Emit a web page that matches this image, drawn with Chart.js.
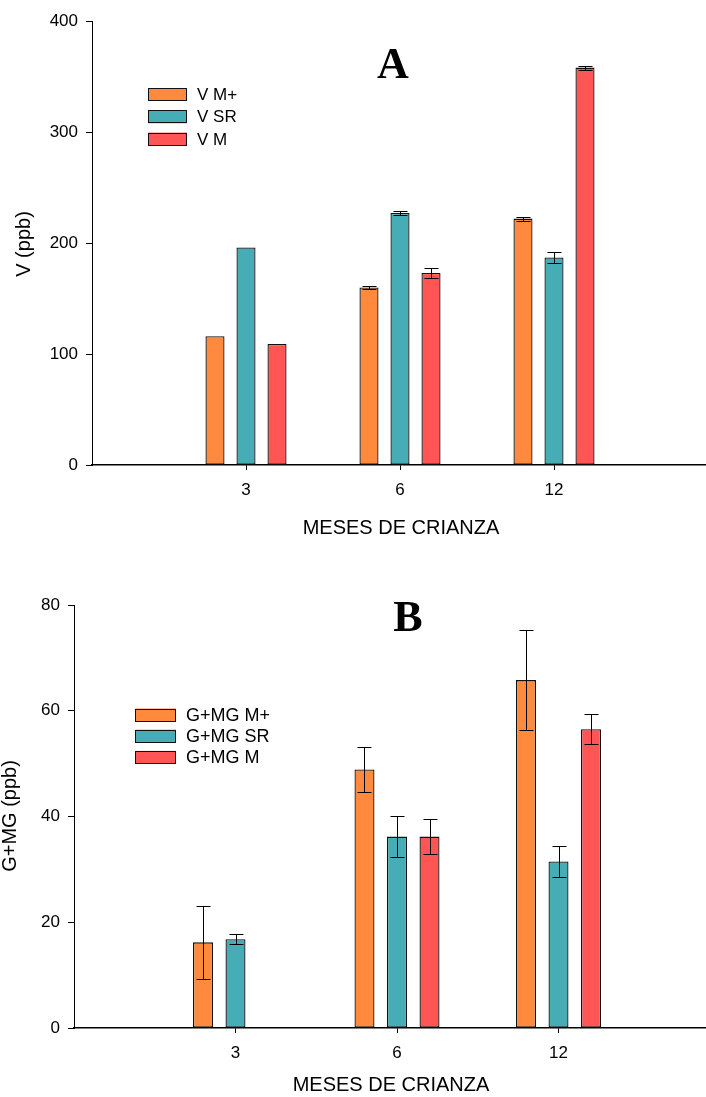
<!DOCTYPE html>
<html><head><meta charset="utf-8">
<script src="https://cdn.jsdelivr.net/npm/chart.js@4"></script>
<style>
html,body{margin:0;padding:0;background:#fff;overflow:hidden;width:706px;height:1097px;position:relative}
canvas{position:absolute;left:0}
</style></head><body>
<canvas id="chartA" width="718" height="550" style="top:0px"></canvas>
<canvas id="chartB" width="730" height="547" style="top:550px"></canvas>
<script>
// ---------- data ----------
const categories = ['3', '6', '12'];

const vLabels = ['V M+', 'V SR', 'V M'];
const vMplus    = [116, 160, 222];
const vMplusErr = [0, 1, 1.8];
const vSR       = [196, 227, 187];
const vSRErr    = [0, 2, 4.8];
const vM        = [109, 173, 358];
const vMErr     = [0, 4.3, 1.8];
const vTicks    = [0, 100, 200, 300, 400];

const gLabels = ['G+MG M+', 'G+MG SR', 'G+MG M'];
const gMplus    = [16.2, 48.9, 65.8];
const gMplusErr = [6.9, 4.2, 9.5];
const gSR       = [16.8, 36.2, 31.5];
const gSRErr    = [0.95, 3.9, 3.0];
const gM        = [null, 36.2, 56.5];
const gMErr     = [0, 3.25, 2.85];
const gTicks    = [0, 20, 40, 60, 80];

// ---------- styles ----------
const COLORS = ['#FF8A3D', '#46ACB5', '#FF5555'];
const BORDER = '#111111';
const SANS = '"Liberation Sans", Arial, sans-serif';
const SERIF = '"Liberation Serif", "Times New Roman", serif';

const pad = arr => [null, ...arr, null];
const padLabels = ['', ...categories, ''];

const errorBars = {
  id: 'errorBars',
  afterDatasetsDraw(chart, args, opts) {
    const ctx = chart.ctx, ys = chart.scales.y;
    ctx.save();
    ctx.strokeStyle = '#000';
    ctx.lineWidth = 1;
    chart.data.datasets.forEach((ds, di) => {
      const meta = chart.getDatasetMeta(di);
      ds.data.forEach((v, i) => {
        const e = ds.errors[i];
        if (v == null || !e) return;
        const el = meta.data[i];
        const x = Math.round(el.x) + 0.5;
        const yt = Math.round(ys.getPixelForValue(v + e)) + 0.5;
        const yb = Math.round(ys.getPixelForValue(v - e)) + 0.5;
        const c = opts.cap / 2;
        ctx.beginPath();
        ctx.moveTo(x, yt); ctx.lineTo(x, yb);
        ctx.moveTo(x - c, yt); ctx.lineTo(x + c, yt);
        ctx.moveTo(x - c, yb); ctx.lineTo(x + c, yb);
        ctx.stroke();
      });
    });
    ctx.restore();
  }
};

const annotations = {
  id: 'annotations',
  afterDraw(chart, args, o) {
    const ctx = chart.ctx;
    ctx.save();
    ctx.fillStyle = '#000';
    // panel letter
    ctx.font = 'bold ' + o.letterSize + 'px ' + SERIF;
    ctx.textAlign = 'center'; ctx.textBaseline = 'alphabetic';
    ctx.fillText(o.letter, o.letterX, o.letterY);
    // axis titles
    ctx.font = o.titleSize + 'px ' + SANS;
    ctx.textBaseline = 'middle';
    ctx.fillText(o.xTitle, o.xTitleX, o.xTitleY);
    ctx.save();
    ctx.translate(o.yTitleX, o.yTitleY);
    ctx.rotate(-Math.PI / 2);
    ctx.fillText(o.yTitle, 0, 0);
    ctx.restore();
    // legend
    ctx.font = o.legendSize + 'px ' + SANS;
    ctx.textAlign = 'left';
    chart.data.datasets.forEach((ds, i) => {
      const cy = o.legY + i * o.legStep;
      ctx.fillStyle = ds.backgroundColor;
      ctx.fillRect(o.legX, cy - o.boxH / 2, o.boxW, o.boxH);
      ctx.strokeStyle = BORDER; ctx.lineWidth = 1;
      ctx.strokeRect(o.legX + 0.5, Math.round(cy - o.boxH / 2) + 0.5, o.boxW - 1, o.boxH - 1);
      ctx.fillStyle = '#000';
      ctx.fillText(ds.label, o.legX + o.boxW + o.textGap, cy + 1);
    });
    ctx.restore();
  }
};

function makeChart(id, labels, series, errs, ticks, cfg) {
  const datasets = series.map((s, i) => ({
    label: labels[i],
    data: pad(s),
    errors: pad(errs[i]),
    backgroundColor: COLORS[i],
    borderColor: BORDER,
    borderWidth: 1.3,
    borderSkipped: false,
    categoryPercentage: 0.604,
    barPercentage: 0.615
  }));
  return new Chart(document.getElementById(id), {
    type: 'bar',
    data: { labels: padLabels, datasets },
    plugins: [errorBars, annotations],
    options: {
      responsive: false,
      animation: false,
      devicePixelRatio: 1,
      layout: { padding: { top: cfg.top, left: 0, right: 0, bottom: 0 } },
      plugins: {
        legend: { display: false },
        tooltip: { enabled: false },
        errorBars: { cap: 14 },
        annotations: cfg.ann
      },
      scales: {
        x: {
          offset: false,
          grid: {
            offset: false, drawOnChartArea: false, drawTicks: true, tickLength: 5,
            tickColor: c => (c.index === 0 || c.index === padLabels.length - 1) ? 'rgba(0,0,0,0)' : '#000'
          },
          border: { display: true, color: '#000', width: 1.4 },
          ticks: { autoSkip: false, maxRotation: 0, padding: cfg.xPad, color: '#000', font: { family: SANS, size: 17 } },
          afterFit: s => { s.height = cfg.xH; }
        },
        y: {
          min: ticks[0], max: ticks[ticks.length - 1],
          afterBuildTicks: s => { s.ticks = ticks.map(v => ({ value: v })); },
          grid: { drawOnChartArea: false, drawTicks: true, tickLength: 6, tickColor: '#000' },
          border: { display: true, color: '#000', width: 1 },
          ticks: { padding: 8, color: '#000', font: { family: SANS, size: 17 } },
          afterFit: s => { s.width = cfg.yW; }
        }
      }
    }
  });
}

makeChart('chartA', vLabels, [vMplus, vSR, vM], [vMplusErr, vSRErr, vMErr], vTicks, {
  top: 21, yW: 92, xH: 85, xPad: 10,
  ann: {
    letter: 'A', letterSize: 44, letterX: 393, letterY: 78,
    titleSize: 20, xTitle: 'MESES DE CRIANZA', xTitleX: 401, xTitleY: 528,
    yTitle: 'V (ppb)', yTitleX: 24, yTitleY: 244,
    legendSize: 17, legX: 148, legY: 94.5, legStep: 22.3, boxW: 39, boxH: 13, textGap: 10
  }
});

makeChart('chartB', gLabels, [gMplus, gSR, gM], [gMplusErr, gSRErr, gMErr], gTicks, {
  top: 55, yW: 74, xH: 69, xPad: 10,
  ann: {
    letter: 'B', letterSize: 44, letterX: 408, letterY: 81,
    titleSize: 20, xTitle: 'MESES DE CRIANZA', xTitleX: 391, xTitleY: 535,
    yTitle: 'G+MG (ppb)', yTitleX: 10, yTitleY: 266,
    legendSize: 18, legX: 135, legY: 165, legStep: 21.2, boxW: 41, boxH: 13, textGap: 10
  }
});
</script>
</body></html>
